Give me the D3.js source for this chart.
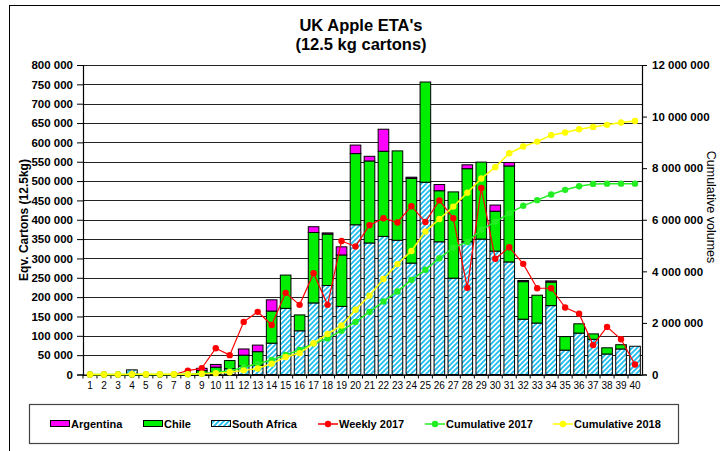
<!DOCTYPE html>
<html>
<head>
<meta charset="utf-8">
<script src="https://cdn.jsdelivr.net/npm/d3@7"></script>
<style>
  body { margin: 0; background: #fff; }
  svg { display: block; font-family: "Liberation Sans", Arial, sans-serif; }
</style>
</head>
<body>
<svg id="chart" width="720" height="451"></svg>
<script>
// week numbers
var weeks = [1, 2, 3, 4, 5, 6, 7, 8, 9, 10, 11, 12, 13, 14, 15, 16, 17, 18, 19, 20,
             21, 22, 23, 24, 25, 26, 27, 28, 29, 30, 31, 32, 33, 34, 35, 36, 37, 38, 39, 40];

// stacked bars (cartons)
var southAfrica = [0, 0, 0, 12000, 0, 0, 0, 0, 3000, 6000, 15000, 22000, 24000, 81000, 171000, 113000, 185000, 230000, 176000, 387000,
                   340000, 357000, 347000, 288000, 497000, 343000, 249000, 343000, 350000, 319000, 291000, 143000, 133000, 178000, 63000, 107000, 91000, 53000, 66000, 73000];
var chile = [0, 0, 0, 0, 0, 0, 0, 0, 7000, 13000, 21000, 28000, 35000, 83000, 86000, 41000, 182000, 133000, 133000, 184000,
             212000, 220000, 231000, 219000, 259000, 132000, 223000, 189000, 199000, 103000, 248000, 97000, 72000, 61000, 35000, 24000, 14000, 16000, 11000, 0];
var argentina = [0, 0, 0, 0, 0, 0, 0, 0, 6000, 7000, 0, 16000, 17000, 29000, 0, 0, 15000, 3000, 21000, 22000,
                 12000, 57000, 0, 3000, 0, 16000, 0, 10000, 0, 16000, 9000, 3000, 0, 3000, 0, 0, 0, 0, 0, 0];

// lines
var weekly2017 = [0, 0, 0, 0, 0, 0, 0, 10000, 16000, 68000, 50000, 136000, 162000, 128000, 211000, 180000, 262000, 180000, 345000, 331000,
                  386000, 404000, 393000, 435000, 394000, 450000, 404000, 224000, 482000, 299000, 329000, 286000, 223000, 223000, 173000, 157000, 76000, 123000, 91000, 26000];
var cumulative2017 = [0, 0, 0, 0, 0, 0, 0, 10000, 26000, 90000, 140000, 280000, 420000, 560000, 760000, 950000, 1200000, 1400000, 1700000, 2040000,
                      2430000, 2830000, 3220000, 3670000, 4060000, 4510000, 4920000, 5140000, 5620000, 5920000, 6250000, 6540000, 6760000, 6980000, 7160000, 7300000, 7390000, 7400000, 7400000, 7400000];
var cumulative2018 = [0, 0, 0, 10000, 10000, 10000, 10000, 10000, 30000, 50000, 90000, 160000, 230000, 420000, 680000, 830000, 1210000, 1570000, 1900000, 2510000,
                      3060000, 3700000, 4280000, 4790000, 5540000, 6030000, 6510000, 7050000, 7600000, 8040000, 8580000, 8840000, 9030000, 9280000, 9380000, 9510000, 9600000, 9680000, 9770000, 9830000];

var leftTicks = d3.range(0, 800001, 50000);
var rightTicks = d3.range(0, 12000001, 2000000);

var seriesKeys = ["southAfrica", "chile", "argentina"];
var rows = weeks.map(function (w, i) {
    return {week: w, southAfrica: southAfrica[i], chile: chile[i], argentina: argentina[i]};
});

var svg = d3.select("#chart");
var margin = {left: 83, right: 642, top: 65, bottom: 374.5};

var fmt = d3.formatLocale({decimal: ".", thousands: " ", grouping: [3], currency: ["", ""]}).format(",");

var x = d3.scaleBand().domain(weeks).range([margin.left, margin.right]).paddingInner(0.24).paddingOuter(0.12);
var xb = d3.scaleBand().domain(weeks).range([margin.left, margin.right]);
var y = d3.scaleLinear().domain([0, 800000]).range([margin.bottom, margin.top]);
var y2 = d3.scaleLinear().domain([0, 12000000]).range([margin.bottom, margin.top]);

// hatch pattern for South Africa
var defs = svg.append("defs");
var pat = defs.append("pattern")
    .attr("id", "hatch")
    .attr("patternUnits", "userSpaceOnUse")
    .attr("width", 5).attr("height", 5);
pat.append("rect").attr("width", 5).attr("height", 5).attr("fill", "#fff");
pat.append("path")
    .attr("d", "M-1.25,1.25 l2.5,-2.5 M0,5 l5,-5 M3.75,6.25 l2.5,-2.5")
    .attr("stroke", "#22bff0").attr("stroke-width", 1.9);

// outer frame
svg.append("rect")
    .attr("x", 9.5).attr("y", 5.5).attr("width", 730).attr("height", 460)
    .attr("fill", "none").attr("stroke", "#000").attr("stroke-width", 1);

// title
svg.append("text").attr("x", 361).attr("y", 31).attr("text-anchor", "middle")
    .attr("font-size", 16.5).attr("font-weight", "bold").text("UK Apple ETA's");
svg.append("text").attr("x", 361).attr("y", 50).attr("text-anchor", "middle")
    .attr("font-size", 16.5).attr("font-weight", "bold").text("(12.5 kg cartons)");

// gridlines
svg.append("g").selectAll("line").data(leftTicks).enter().append("line")
    .attr("x1", margin.left).attr("x2", margin.right)
    .attr("y1", function (d) { return Math.round(y(d)) + 0.5; })
    .attr("y2", function (d) { return Math.round(y(d)) + 0.5; })
    .attr("stroke", "#222").attr("stroke-width", 1);

// bars
var stack = d3.stack().keys(seriesKeys)(rows);
var fills = {southAfrica: "url(#hatch)", chile: "#00ee00", argentina: "#ff00ff"};

svg.append("g").selectAll("g").data(stack).enter().append("g")
    .attr("fill", function (d) { return fills[d.key]; })
    .selectAll("rect")
    .data(function (d) { return d.filter(function (v) { return v[1] - v[0] > 0; }); })
    .enter().append("rect")
    .attr("x", function (d) { return x(d.data.week); })
    .attr("width", x.bandwidth())
    .attr("y", function (d) { return y(d[1]); })
    .attr("height", function (d) { return y(d[0]) - y(d[1]); })
    .attr("stroke", "#000").attr("stroke-width", 1);

// axes
var leftAxis = d3.axisLeft(y).tickValues(leftTicks).tickSize(6).tickPadding(4).tickFormat(fmt);
var gl = svg.append("g").attr("transform", "translate(" + margin.left + ",0)").call(leftAxis);
gl.selectAll("text").attr("font-size", 11.5).attr("font-weight", "bold").attr("fill", "#000");

var rightAxis = d3.axisRight(y2).tickValues(rightTicks).tickSize(5).tickPadding(5).tickFormat(fmt);
var gr = svg.append("g").attr("transform", "translate(" + margin.right + ",0)").call(rightAxis);
gr.selectAll("text").attr("font-size", 11.5).attr("font-weight", "bold").attr("fill", "#000");

var bottomAxis = d3.axisBottom(xb).tickSize(0).tickPadding(7);
var gb = svg.append("g").attr("transform", "translate(0," + margin.bottom + ")").call(bottomAxis);
gb.selectAll("text").attr("font-size", 10).attr("fill", "#000");
gb.selectAll(".domain").attr("stroke", "#000");
// small category boundary ticks
gb.append("g").selectAll("line").data(weeks).enter().append("line")
    .attr("x1", function (d) { return xb(d); })
    .attr("x2", function (d) { return xb(d); })
    .attr("y1", 0).attr("y2", 4)
    .attr("stroke", "#000");

svg.selectAll(".domain").attr("stroke-width", 1.2);

// axis titles
svg.append("text")
    .attr("transform", "translate(28,220) rotate(-90)")
    .attr("text-anchor", "middle").attr("font-size", 12).attr("font-weight", "bold")
    .text("Eqv. Cartons (12.5kg)");
svg.append("text")
    .attr("transform", "translate(707,207) rotate(90)")
    .attr("text-anchor", "middle").attr("font-size", 12.5)
    .text("Cumulative volumes");

// lines
function drawLine(values, scale, color, width) {
    var pts = values.map(function (v, i) { return [xb(weeks[i]) + xb.bandwidth() / 2, scale(v)]; });
    var g = svg.append("g");
    g.append("path")
        .attr("d", d3.line()(pts))
        .attr("fill", "none").attr("stroke", color).attr("stroke-width", width);
    g.selectAll("circle").data(pts).enter().append("circle")
        .attr("cx", function (d) { return d[0]; })
        .attr("cy", function (d) { return d[1]; })
        .attr("r", 3.2).attr("fill", color);
}
drawLine(weekly2017, y, "#ff0000", 1.2);
drawLine(cumulative2017, y2, "#22ee22", 1.5);
drawLine(cumulative2018, y2, "#ffff00", 1.5);

// legend
var lg = svg.append("g");
lg.append("rect").attr("x", 29.5).attr("y", 404.5).attr("width", 649).attr("height", 39)
    .attr("fill", "#fff").attr("stroke", "#444").attr("stroke-width", 1.2);

var legendItems = [
    {label: "Argentina", type: "box", fill: "#ff00ff", x: 50},
    {label: "Chile", type: "box", fill: "#00ee00", x: 143},
    {label: "South Africa", type: "box", fill: "url(#hatch)", x: 211},
    {label: "Weekly 2017", type: "line", fill: "#ff0000", x: 318},
    {label: "Cumulative 2017", type: "line", fill: "#22ee22", x: 425},
    {label: "Cumulative 2018", type: "line", fill: "#ffff00", x: 553}
];
var ly = 424;
legendItems.forEach(function (it) {
    if (it.type === "box") {
        lg.append("rect").attr("x", it.x + 0.5).attr("y", ly - 3.5).attr("width", 19).attr("height", 6)
            .attr("fill", it.fill).attr("stroke", "#000").attr("stroke-width", 1);
    } else {
        lg.append("line").attr("x1", it.x).attr("x2", it.x + 20).attr("y1", ly).attr("y2", ly)
            .attr("stroke", it.fill).attr("stroke-width", 1.5);
        lg.append("circle").attr("cx", it.x + 10).attr("cy", ly).attr("r", 3.2).attr("fill", it.fill);
    }
    lg.append("text").attr("x", it.x + 21).attr("y", ly + 4)
        .attr("font-size", 11).attr("font-weight", "bold").text(it.label);
});
</script>
</body>
</html>
